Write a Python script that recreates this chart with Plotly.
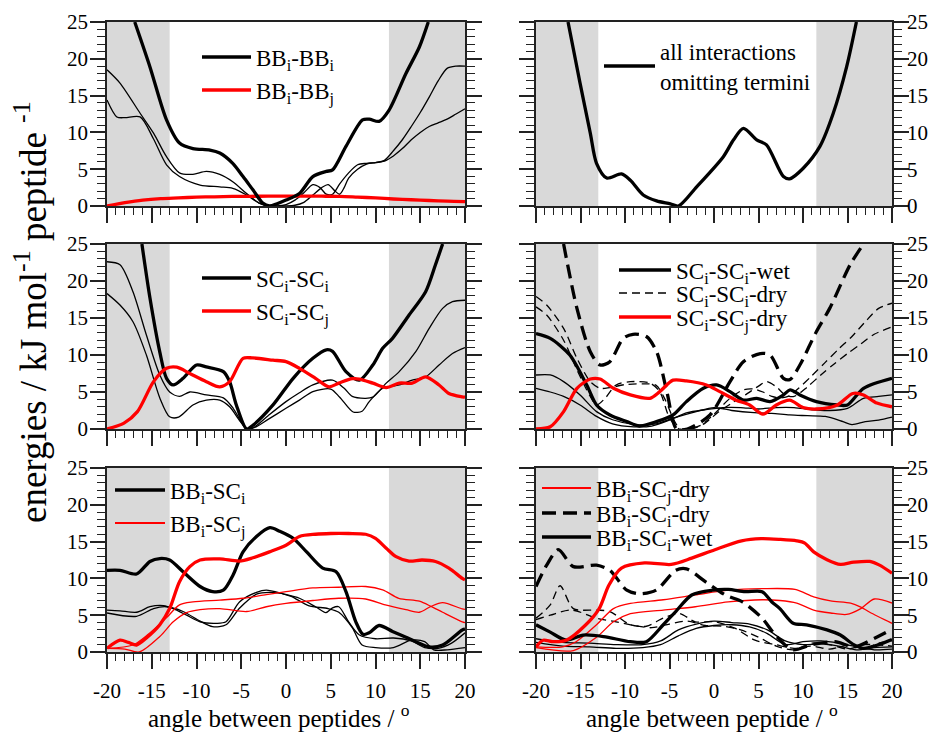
import plotly.graph_objects as go

W, H = 941, 734
FONT = "Liberation Serif, Times New Roman, Times, serif"
BLACK = "#000000"
RED = "#ff0000"
SHADE = "#d9d9d9"
THICK, THIN = 3.3, 1.3

# ---------------- data ----------------
shade_bands = [(-20, -13.0), (11.5, 20)]
x_ticks = [-20, -15, -10, -5, 0, 5, 10, 15, 20]
x_tick_text = ["-20", "-15", "-10", "-5", "0", "5", "10", "15", "20"]
y_ticks = [0, 5, 10, 15, 20, 25]
y_tick_text = ["0", "5", "10", "15", "20", "25"]

# panel 1 : top left
p1_bbii_x = [-16.9, -15.2, -13.35, -11.9, -10.4, -8.5, -7.4, -5.95, -4.8, -3.7, -2.6, -1.85, -1.0, 0.0, 1.5, 3.0, 4.5, 5.2, 6.7, 8.55, 9.3, 10.4, 11.5, 13.4, 14.9, 15.9]
p1_bbii_y = [25, 18.9, 11.7, 8.55, 7.8, 7.6, 7.2, 5.8, 4.0, 2.2, 0.4, 0.0, 0.3, 0.8, 1.7, 4.0, 4.7, 4.9, 8.1, 11.7, 11.8, 11.5, 13.0, 18.0, 21.6, 25]
p1_thinA_x = [-20, -18.55, -16.3, -14.8, -13.35, -11.9, -10.4, -8.9, -7.4, -5.95, -4.4, -3.0, -2.0, -1.0, 0, 1, 2, 3, 3.8, 4.5, 5.2, 6, 7, 8, 9, 10, 11, 12, 13, 14, 15, 16, 17, 18, 19, 20]
p1_thinA_y = [18.5, 16.7, 12.6, 9.9, 6.7, 4.5, 4.3, 4.7, 4.3, 3.3, 1.7, 0.4, 0.0, 0.0, 0.2, 0.8, 1.8, 2.9, 2.5, 1.6, 1.6, 3.0, 4.5, 5.6, 5.8, 5.9, 6.2, 7.5, 9.0, 10.8, 12.7, 14.8, 17.0, 18.7, 19.0, 19.0]
p1_thinB_x = [-20, -18.9, -18.0, -16.3, -14.8, -13.35, -11.9, -9.6, -7.4, -5.95, -4.4, -3.0, -1.5, 0, 1, 2, 3, 4, 4.7, 5.5, 6.0, 6.5, 7, 8, 9, 10, 11, 12, 13, 14, 15, 16, 17, 18, 19, 20]
p1_thinB_y = [14.4, 12.1, 12.0, 12.1, 9.1, 5.6, 4.0, 2.85, 2.6, 2.4, 1.5, 0.4, 0.0, 0.0, 0.1, 0.5, 1.5, 2.5, 2.9, 2.0, 1.6, 2.5, 3.8, 5.0, 5.7, 5.9, 6.1, 6.8, 7.8, 9.0, 10.0, 10.8, 11.3, 11.8, 12.5, 13.2]
p1_bbij_x = [-20, -18, -16, -14, -12, -10, -8, -6, -4, -2, 0, 2, 4, 6, 8, 10, 12, 14, 16, 18, 20]
p1_bbij_y = [0.0, 0.45, 0.8, 1.0, 1.1, 1.2, 1.25, 1.3, 1.32, 1.33, 1.35, 1.35, 1.33, 1.3, 1.2, 1.1, 0.95, 0.85, 0.75, 0.65, 0.6]

# panel 2 : top right
p2_all_x = [-16.4, -15.05, -13.9, -13.2, -12.05, -10.4, -9.4, -7.95, -6.45, -4.9, -4.0, -1.95, 1.05, 2.2, 3.3, 4.8, 5.9, 7.8, 8.5, 10.0, 11.9, 13.4, 14.9, 16.0]
p2_all_y = [25, 16.7, 9.9, 5.8, 3.8, 4.35, 3.5, 1.5, 0.7, 0.3, 0.0, 2.6, 6.7, 9.0, 10.55, 9.0, 8.3, 4.0, 3.7, 5.1, 8.1, 12.6, 18.9, 25]

# panel 3 : middle left
p3_scii_x = [-16.1, -15.2, -14.1, -13.35, -12.6, -11.5, -10.0, -8.9, -7.0, -6.3, -5.55, -4.4, -3.7, -1.45, 0.8, 3.0, 4.5, 5.2, 6.7, 8.2, 9.7, 10.8, 11.9, 13.75, 15.6, 16.7, 17.5]
p3_scii_y = [25, 17.7, 10.4, 6.85, 5.95, 6.85, 8.65, 8.4, 7.75, 6.4, 3.25, 0.0, 0.5, 3.25, 6.85, 9.55, 10.7, 10.5, 7.75, 6.6, 8.65, 10.9, 12.25, 15.4, 18.55, 22.2, 25]
p3_thinC_x = [-20, -18.55, -17.1, -15.6, -14.1, -13.0, -11.9, -10.75, -8.9, -7.0, -5.9, -4.4, -3.5, -2, 0, 1.5, 3.0, 5.2, 6.5, 7.4, 8.9, 9.7, 11.2, 12.65, 14.5, 16.0, 17.5, 18.6, 20]
p3_thinC_y = [22.6, 22.2, 18.55, 12.7, 7.3, 5.0, 4.4, 5.0, 4.6, 4.2, 2.8, 0.0, 0.3, 1.8, 3.7, 4.9, 5.95, 6.6, 5.5, 4.4, 4.15, 4.3, 6.2, 7.75, 10.45, 13.6, 16.3, 17.2, 17.4]
p3_thinD_x = [-20, -18.55, -17.1, -15.6, -14.1, -13.0, -12.0, -10.4, -8.9, -7.4, -6.3, -5.1, -4.3, -3.5, -2, 0, 1.5, 3.0, 5.0, 6.0, 7.5, 8.5, 9.3, 10.8, 12.65, 14.1, 15.6, 17.1, 18.6, 20]
p3_thinD_y = [18.3, 16.75, 14.5, 10.0, 4.2, 1.65, 1.6, 3.25, 3.9, 3.9, 3.0, 1.0, 0.0, 0.2, 1.3, 2.8, 3.9, 5.05, 5.4, 4.3, 2.3, 2.4, 3.7, 5.5, 5.95, 6.6, 7.05, 8.65, 10.2, 11.0]
p3_scij_x = [-20, -18.1, -16.6, -14.8, -13.35, -12.2, -10.75, -8.9, -7.4, -6.3, -4.8, -3.7, -1.45, 0, 1.5, 3.3, 4.8, 5.9, 7.4, 8.2, 9.7, 11.2, 12.65, 14.1, 15.6, 17.1, 18.2, 19.7, 20]
p3_scij_y = [0, 0.8, 2.35, 6.4, 8.2, 8.35, 7.5, 6.4, 5.7, 6.4, 9.55, 9.6, 9.3, 9.1, 8.2, 6.85, 5.7, 6.2, 6.8, 6.75, 6.2, 5.6, 6.2, 6.2, 7.05, 5.95, 4.8, 4.35, 4.3]

# panel 4 : middle right
p4_dry_x = [-16.9, -15.4, -13.9, -12.8, -11.7, -10.2, -9.1, -7.6, -6.45, -5.3, -4.2, -3.0, -0.45, 1.8, 3.3, 5.2, 6.3, 7.8, 8.55, 9.65, 11.5, 13.0, 15.3, 16.8]
p4_dry_y = [25, 16.3, 10.45, 8.65, 9.1, 12.25, 12.8, 12.5, 10.45, 5.05, 0.0, 0.0, 1.9, 6.4, 9.1, 10.2, 10.0, 6.85, 6.7, 8.65, 13.15, 16.3, 22.2, 25]
p4_wet_x = [-20, -18.4, -16.2, -14.3, -13.2, -11.7, -9.8, -8.4, -6.45, -4.6, -3.1, -1.2, 0.3, 1.8, 3.3, 4.8, 6.3, 7.8, 8.55, 9.65, 11.5, 13.8, 15.0, 16.8, 20]
p4_wet_y = [12.9, 12.25, 10.0, 5.95, 3.25, 1.9, 1.0, 0.4, 1.0, 1.9, 3.7, 5.5, 5.95, 5.05, 3.9, 4.15, 3.7, 4.6, 5.3, 4.6, 3.7, 3.25, 3.25, 5.5, 6.85]
p4_dsh1_x = [-20, -18.8, -16.9, -15.4, -13.9, -12.8, -11.7, -10, -8, -6.5, -5.5, -4.5, -3.8, -3.0, -1.5, 0, 1.8, 3.3, 4.5, 5.5, 6.5, 7.5, 8.5, 9.5, 11, 12.5, 14, 15.5, 17, 18.5, 20]
p4_dsh1_y = [17.9, 16.75, 13.6, 9.55, 6.4, 5.5, 5.6, 6.0, 6.1, 5.9, 4.0, 1.2, 0.0, 0.0, 0.5, 2.0, 4.15, 5.3, 5.4, 5.0, 4.4, 4.2, 4.5, 5.5, 7.2, 9.0, 10.8, 12.5, 14.5, 16.3, 17.0]
p4_dsh2_x = [-20, -18.8, -16.9, -15.4, -14, -13.2, -12.2, -11.0, -9.4, -7.2, -6.1, -5.0, -3.9, -2.5, -1, 0.5, 2, 3.5, 5.0, 5.9, 7.0, 8.0, 9.0, 10.5, 12, 13.5, 15, 16.5, 18, 20]
p4_dsh2_y = [16.5, 15.4, 12.0, 8.0, 4.6, 3.25, 4.2, 5.95, 6.4, 6.2, 5.05, 1.5, 0.0, 0.0, 0.8, 2.3, 3.5, 4.6, 5.8, 6.4, 5.7, 4.6, 4.4, 5.7, 7.3, 8.8, 10.2, 11.5, 12.8, 13.8]
p4_thn1_x = [-20, -18.4, -16.9, -15.05, -13.2, -11.4, -8.8, -6.5, -4.5, -2, 0, 2, 4.5, 6.5, 8.5, 10.5, 12.5, 14.5, 15.5, 17, 18.5, 20]
p4_thn1_y = [7.3, 7.3, 6.4, 4.6, 2.35, 1.25, 0.6, 0.7, 1.5, 2.35, 2.9, 2.5, 2.2, 2.1, 1.9, 1.8, 1.7, 1.0, 0.6, 1.0, 1.2, 1.6]
p4_thn2_x = [-20, -18.4, -16.9, -15.05, -13.2, -11.4, -9, -7, -5, -3, -1, 1, 3, 5, 7, 9, 11, 13, 15, 16.8, 18.5, 20]
p4_thn2_y = [5.5, 5.0, 4.4, 3.25, 1.7, 0.7, 0.3, 0.4, 1.2, 2.2, 2.6, 2.9, 2.9, 2.7, 2.9, 2.9, 2.6, 2.5, 2.8, 4.15, 4.4, 4.6]
p4_scij_x = [-20, -18.4, -16.9, -15.4, -13.9, -12.8, -11.3, -9.4, -7.2, -6.1, -4.6, -3.1, -0.85, 0.65, 2.5, 4.0, 5.5, 7.0, 8.5, 10.0, 11.5, 13.8, 15.6, 16.8, 18.3, 20]
p4_scij_y = [0, 0.3, 2.35, 5.5, 6.75, 6.75, 5.5, 4.6, 4.15, 5.05, 6.6, 6.5, 5.95, 5.05, 3.9, 3.25, 2.0, 3.25, 3.9, 2.9, 2.7, 3.2, 4.8, 4.6, 3.5, 3.0]

# panel 5 : bottom left
p5_bbsci_x = [-20, -18.55, -16.7, -15.2, -14.1, -13.0, -11.5, -9.6, -8.2, -7.0, -5.9, -4.8, -3.3, -1.8, -0.7, 0.8, 2.3, 4.1, 5.6, 6.7, 7.8, 8.6, 9.3, 10.4, 11.9, 13.4, 14.5, 16.0, 17.5, 19.7, 20]
p5_bbsci_y = [11.1, 11.1, 10.6, 12.3, 12.7, 12.5, 10.9, 8.9, 8.2, 8.4, 10.5, 13.6, 15.7, 16.9, 16.4, 15.45, 13.6, 11.4, 10.9, 8.2, 4.1, 2.4, 2.6, 3.6, 2.8, 2.0, 1.4, 0.7, 0.95, 3.0, 3.1]
p5_bbscj_x = [-20, -18.55, -17.6, -16.7, -15.6, -14.1, -13.0, -11.9, -10.75, -9.6, -7.4, -5.2, -3.7, -1.85, 0, 1.5, 3.3, 5, 7, 8.9, 10.0, 11.2, 12.3, 13.75, 15.2, 16.7, 18.2, 19.7, 20]
p5_bbscj_y = [0.5, 1.6, 1.3, 0.95, 1.9, 3.7, 5.9, 9.55, 11.6, 12.5, 12.65, 12.35, 12.8, 13.6, 14.5, 15.7, 16.0, 16.1, 16.1, 16.0, 15.45, 14.1, 12.95, 12.35, 12.5, 12.3, 11.4, 10.0, 9.8]
p5_thk1_x = [-20, -18.55, -16.7, -15.2, -13.7, -12.6, -11.1, -9.6, -7.8, -6.7, -5.2, -3.3, -2.2, -0.3, 1.5, 3.3, 4.45, 5.2, 5.9, 7.0, 8.2, 10, 12, 14, 15.5, 17, 18.5, 20]
p5_thk1_y = [5.7, 5.6, 5.4, 6.15, 6.3, 5.9, 5.0, 4.1, 3.9, 4.1, 6.8, 8.1, 8.4, 7.9, 7.3, 6.15, 5.35, 6.0, 6.15, 4.1, 2.3, 1.8, 1.9, 1.5, 0.6, 0.5, 1.2, 2.6]
p5_thk2_x = [-20, -16.7, -14.8, -13.4, -11.5, -9.6, -8.2, -6.7, -5.2, -3.3, -1.5, 0.5, 2.5, 4.7, 5.9, 7.4, 8.5, 10, 12, 14, 15.5, 16.5, 18, 20]
p5_thk2_y = [5.3, 4.85, 5.9, 6.15, 5.5, 4.2, 3.45, 3.7, 5.95, 7.85, 8.1, 7.6, 6.3, 5.9, 5.4, 3.3, 0.95, 0.6, 0.6, 1.6, 1.4, 0.3, 0.3, 0.6]
p5_red1_x = [-20, -17.1, -15.5, -13.4, -11.9, -10.4, -7.4, -4.8, -2.2, 0, 3.0, 5.9, 8.9, 10.8, 12.6, 14.9, 16.2, 17.5, 19.7, 20]
p5_red1_y = [0.5, 0.95, 2.3, 4.6, 6.4, 6.8, 7.05, 7.3, 7.8, 8.2, 8.7, 8.8, 8.9, 8.45, 7.3, 6.9, 6.2, 5.4, 4.1, 4.0]
p5_red2_x = [-20, -18, -16.4, -14.1, -12.6, -11.1, -9.6, -7.4, -4.4, -2.2, 0, 3.0, 5.9, 8.9, 11.1, 13.4, 14.9, 16.2, 17.5, 19.7, 20]
p5_red2_y = [0.5, 0.4, 0.0, 2.1, 4.1, 5.35, 5.75, 5.9, 5.5, 6.15, 6.6, 7.0, 7.3, 7.2, 6.4, 5.75, 5.4, 6.2, 6.7, 5.85, 5.8]

# panel 6 : bottom right
p6_scjdry_x = [-20, -19.2, -18.1, -16.6, -14.4, -12.9, -11.8, -10.4, -7.8, -4.8, -2.5, 0.1, 3.1, 5.3, 7.4, 9.3, 10.2, 11.2, 12.7, 14.2, 15.7, 17.5, 18.6, 20]
p6_scjdry_y = [0.7, 1.6, 1.4, 1.6, 3.7, 5.9, 9.1, 11.4, 12.1, 11.9, 12.75, 13.9, 15.1, 15.4, 15.3, 15.1, 14.8, 13.6, 12.55, 11.9, 12.2, 12.3, 11.8, 10.7]
p6_scidry_x = [-20, -18.8, -17.5, -15.8, -13.2, -11.7, -9.8, -8.4, -6.5, -4.3, -3.1, -0.9, 1.35, 3.2, 5.4, 6.9, 8.8, 11.0, 13.6, 15.8, 18.1, 20]
p6_scidry_y = [8.9, 11.8, 13.9, 11.6, 11.8, 11.1, 8.4, 7.9, 8.4, 11.1, 11.3, 9.5, 7.7, 6.8, 4.6, 2.3, 0.3, 1.0, 1.4, 0.7, 1.9, 3.1]
p6_sciwet_x = [-20, -18.4, -16.6, -14.7, -12.4, -9.4, -7.6, -5.7, -4.3, -2.5, -0.2, 1.6, 3.5, 5.4, 6.5, 7.4, 8.9, 10.4, 12.7, 14.2, 15.7, 16.8, 18.5, 20]
p6_sciwet_y = [3.7, 2.7, 1.6, 2.3, 2.1, 1.4, 1.4, 3.7, 5.5, 7.75, 8.4, 8.5, 8.2, 8.2, 6.8, 5.9, 3.9, 3.7, 3.0, 2.3, 1.0, 0.5, 1.0, 1.7]
p6_dsh1_x = [-20, -18.4, -17.3, -15.8, -13.2, -11.7, -9.4, -7.6, -5.7, -3.9, -2.1, 0.1, 2.4, 4.6, 6.9, 9, 11, 13, 15, 17, 18.5, 20]
p6_dsh1_y = [4.6, 6.4, 9.0, 5.9, 5.7, 5.5, 3.7, 3.5, 4.6, 5.25, 4.1, 4.1, 3.2, 1.6, 1.0, 0.5, 0.8, 0.4, 0.9, 0.5, 1.2, 1.5]
p6_dsh2_x = [-20, -18.4, -16, -13.2, -11, -9, -7, -5, -3, -1, 1, 3, 5, 7, 9, 11, 13, 15, 17, 20]
p6_dsh2_y = [4.4, 5.0, 5.7, 4.6, 4.1, 3.6, 3.3, 3.8, 4.2, 3.6, 3.5, 3.0, 2.0, 0.8, 0.3, 1.2, 1.0, 0.4, 1.0, 0.8]
p6_thn1_x = [-20, -17, -14, -11, -8, -6, -4, -2, 0, 2, 4, 6, 8, 10, 12, 14, 16, 18, 20]
p6_thn1_y = [1.8, 1.3, 1.2, 1.0, 1.0, 1.5, 3.0, 3.8, 4.2, 4.0, 3.8, 3.0, 1.5, 1.0, 1.1, 0.8, 0.3, 0.6, 0.7]
p6_thn2_x = [-20, -17, -14, -11, -8, -6, -4, -2, 0, 2, 4, 6, 8, 10, 12, 14, 16, 18, 20]
p6_thn2_y = [1.3, 0.8, 0.7, 0.5, 0.6, 1.0, 2.2, 3.2, 3.6, 3.7, 3.4, 2.5, 1.0, 1.4, 1.5, 1.2, 0.7, 0.3, 0.4]
p6_red1_x = [-20, -17, -15.5, -13.2, -11.3, -9.4, -5.7, -2.1, 1.6, 5.4, 9.1, 11.2, 13.1, 15.35, 16.5, 17.5, 20]
p6_red1_y = [0.7, 0.7, 1.4, 3.7, 5.9, 6.6, 7.1, 7.75, 8.4, 8.6, 8.5, 7.5, 6.95, 6.65, 6.1, 5.4, 3.9]
p6_red2_x = [-20, -15.8, -13.2, -11.3, -9.4, -5.7, -2.1, 1.6, 5.4, 7.4, 9.3, 11.2, 13.1, 14.9, 16.5, 18.0, 20]
p6_red2_y = [0.6, 0.2, 2.0, 4.1, 5.2, 5.7, 6.15, 6.8, 7.1, 7.0, 6.65, 5.7, 5.3, 5.1, 5.9, 7.2, 6.65]

# legend labels
lab_bbii = "BB<sub>i</sub>-BB<sub>i</sub>"
lab_bbij = "BB<sub>i</sub>-BB<sub>j</sub>"
lab_all = "all interactions<br>omitting termini"
lab_scii = "SC<sub>i</sub>-SC<sub>i</sub>"
lab_scij = "SC<sub>i</sub>-SC<sub>j</sub>"
lab_sciiwet = "SC<sub>i</sub>-SC<sub>i</sub>-wet"
lab_sciidry = "SC<sub>i</sub>-SC<sub>i</sub>-dry"
lab_scijdry = "SC<sub>i</sub>-SC<sub>j</sub>-dry"
lab_bbsci = "BB<sub>i</sub>-SC<sub>i</sub>"
lab_bbscj = "BB<sub>i</sub>-SC<sub>j</sub>"
lab_bbscjdry = "BB<sub>i</sub>-SC<sub>j</sub>-dry"
lab_bbscidry = "BB<sub>i</sub>-SC<sub>i</sub>-dry"
lab_bbsciwet = "BB<sub>i</sub>-SC<sub>i</sub>-wet"

# ---------------- layout geometry (pixels) ----------------
col_px = {1: (107, 465), 2: (536, 892)}
row_px = {1: (22, 206), 2: (244, 429), 3: (468, 652)}
panel_rc = {1: (1, 1), 2: (1, 2), 3: (2, 1), 4: (2, 2), 5: (3, 1), 6: (3, 2)}

fig = go.Figure()
legend_layouts = {}
legend_count = [0]

DASH_THICK = "14px,7px"
DASH_THIN = "8px,5px"
LEG_FS = 23


def new_legend(line_start, line_end, text_start, row_center, lines=1, fsize=LEG_FS):
    legend_count[0] += 1
    key = "legend" if legend_count[0] == 1 else "legend%d" % legend_count[0]
    center = (line_start + line_end) / 2.0
    iw = max(30, 2 * (text_start - 2 - center - 5))
    x_left = center - 5 - iw / 2.0
    lh = fsize * 1.3 * lines
    h = max(lh, 16) + 3
    top = row_center - 5 - h / 2
    legend_layouts[key] = dict(
        x=x_left / W, y=1 - top / H, xanchor="left", yanchor="top",
        xref="paper", yref="paper",
        bgcolor="rgba(0,0,0,0)", borderwidth=0,
        font=dict(family=FONT, size=fsize, color="#000"),
        itemwidth=iw, itemclick=False, itemdoubleclick=False, tracegroupgap=0,
    )
    return key


def add(panel, xs, ys, color, width, dash="solid"):
    k = "" if panel == 1 else str(panel)
    fig.add_trace(go.Scatter(
        x=xs, y=ys, mode="lines", xaxis="x" + k, yaxis="y" + k,
        line=dict(color=color, width=width, dash=dash, shape="spline", smoothing=0.8),
        showlegend=False, hoverinfo="skip",
    ))


# panel 1
add(1, p1_thinA_x, p1_thinA_y, BLACK, THIN)
add(1, p1_thinB_x, p1_thinB_y, BLACK, THIN)
add(1, p1_bbij_x, p1_bbij_y, RED, THICK)
add(1, p1_bbii_x, p1_bbii_y, BLACK, THICK)
# panel 2
add(2, p2_all_x, p2_all_y, BLACK, THICK)
# panel 3
add(3, p3_thinC_x, p3_thinC_y, BLACK, THIN)
add(3, p3_thinD_x, p3_thinD_y, BLACK, THIN)
add(3, p3_scii_x, p3_scii_y, BLACK, THICK)
add(3, p3_scij_x, p3_scij_y, RED, THICK)
# panel 4
add(4, p4_thn1_x, p4_thn1_y, BLACK, THIN)
add(4, p4_thn2_x, p4_thn2_y, BLACK, THIN)
add(4, p4_dsh1_x, p4_dsh1_y, BLACK, THIN, DASH_THIN)
add(4, p4_dsh2_x, p4_dsh2_y, BLACK, THIN, DASH_THIN)
add(4, p4_dry_x, p4_dry_y, BLACK, THICK, DASH_THICK)
add(4, p4_wet_x, p4_wet_y, BLACK, THICK)
add(4, p4_scij_x, p4_scij_y, RED, THICK)
# panel 5
add(5, p5_thk1_x, p5_thk1_y, BLACK, THIN)
add(5, p5_thk2_x, p5_thk2_y, BLACK, THIN)
add(5, p5_red1_x, p5_red1_y, RED, THIN)
add(5, p5_red2_x, p5_red2_y, RED, THIN)
add(5, p5_bbsci_x, p5_bbsci_y, BLACK, THICK)
add(5, p5_bbscj_x, p5_bbscj_y, RED, THICK)
# panel 6
add(6, p6_thn1_x, p6_thn1_y, BLACK, THIN)
add(6, p6_thn2_x, p6_thn2_y, BLACK, THIN)
add(6, p6_dsh1_x, p6_dsh1_y, BLACK, THIN, DASH_THIN)
add(6, p6_dsh2_x, p6_dsh2_y, BLACK, THIN, DASH_THIN)
add(6, p6_red1_x, p6_red1_y, RED, THIN)
add(6, p6_red2_x, p6_red2_y, RED, THIN)
add(6, p6_sciwet_x, p6_sciwet_y, BLACK, THICK)
add(6, p6_scidry_x, p6_scidry_y, BLACK, THICK, DASH_THICK)
add(6, p6_scjdry_x, p6_scjdry_y, RED, THICK)


# legend entries (one legend box per row so that the row spacing matches)
def legend_entry(panel, label, color, width, dash, line_start, line_end, text_start, row_center, lines=1):
    key = new_legend(line_start, line_end, text_start, row_center, lines)
    k = "" if panel == 1 else str(panel)
    fig.add_trace(go.Scatter(
        x=[None], y=[None], mode="lines", xaxis="x" + k, yaxis="y" + k,
        line=dict(color=color, width=width, dash=dash), name=label,
        showlegend=True, legend=key, hoverinfo="skip"))


legend_entry(1, lab_bbii, BLACK, THICK, "solid", 210, 243, 258, 57)
legend_entry(1, lab_bbij, RED, THICK, "solid", 210, 243, 258, 90)
legend_entry(2, lab_all, BLACK, THICK, "solid", 612, 647, 662, 66, lines=2)
legend_entry(3, lab_scii, BLACK, THICK, "solid", 210, 243, 258, 278)
legend_entry(3, lab_scij, RED, THICK, "solid", 210, 243, 258, 311)
legend_entry(4, lab_sciiwet, BLACK, THICK, "solid", 628, 662, 678, 270)
legend_entry(4, lab_sciidry, BLACK, THIN, DASH_THIN, 628, 662, 678, 293)
legend_entry(4, lab_scijdry, RED, THICK, "solid", 628, 662, 678, 317)
legend_entry(5, lab_bbsci, BLACK, THICK, "solid", 123, 157, 172, 490)
legend_entry(5, lab_bbscj, RED, 2.0, "solid", 123, 157, 172, 523)
legend_entry(6, lab_bbscjdry, RED, 2.0, "solid", 550, 583, 598, 488)
legend_entry(6, lab_bbscidry, BLACK, THICK, DASH_THICK, 550, 583, 598, 513)
legend_entry(6, lab_bbsciwet, BLACK, THICK, "solid", 550, 583, 598, 537)

# ---------------- axes ----------------
layout = dict(
    width=W, height=H,
    margin=dict(l=0, r=0, t=0, b=0, pad=0, autoexpand=False),
    paper_bgcolor="white", plot_bgcolor="white",
    font=dict(family=FONT, size=21, color="#000"),
    showlegend=True, shapes=[], annotations=[],
)
AX_COLOR = "#222222"
for p, (r, c) in panel_rc.items():
    k = "" if p == 1 else str(p)
    x0, x1 = col_px[c]
    y0, y1 = row_px[r]
    layout["xaxis" + k] = dict(
        domain=[x0 / W, x1 / W], anchor="y" + k, range=[-20, 20], automargin=False,
        tickmode="array", tickvals=x_ticks, ticktext=x_tick_text,
        showticklabels=(r == 3), ticks="outside", ticklen=15, tickwidth=1.5,
        tickcolor=AX_COLOR, showline=True, linecolor=AX_COLOR, linewidth=1.5,
        mirror=True, showgrid=False, zeroline=False,
        minor=dict(dtick=1, tick0=0, ticks="outside", ticklen=7, tickwidth=1.3,
                   tickcolor=AX_COLOR, showgrid=False),
        tickfont=dict(family=FONT, size=21, color="#000"), ticklabelstandoff=4,
    )
    layout["yaxis" + k] = dict(
        domain=[1 - y1 / H, 1 - y0 / H], anchor="x" + k, range=[0, 25], automargin=False,
        side="left" if c == 1 else "right",
        tickmode="array", tickvals=y_ticks, ticktext=y_tick_text,
        ticks="outside", ticklen=15, tickwidth=1.5, tickcolor=AX_COLOR,
        showline=True, linecolor=AX_COLOR, linewidth=1.5, mirror="ticks",
        showgrid=False, zeroline=False,
        minor=dict(dtick=1, tick0=0, ticks="outside", ticklen=8, tickwidth=1.3,
                   tickcolor=AX_COLOR, showgrid=False),
        tickfont=dict(family=FONT, size=21, color="#000"),
        ticklabelstandoff=(-2 if c == 1 else -6),
    )
    for (a, b) in shade_bands:
        layout["shapes"].append(dict(
            type="rect", xref="x" + k, yref="y" + k + " domain", x0=a, x1=b, y0=0, y1=1,
            fillcolor=SHADE, line=dict(width=0), layer="below"))

layout["annotations"] += [
    dict(text="energies / kJ mol<sup>-1</sup> peptide <sup>-1</sup>", textangle=-90,
         x=30 / W, y=1 - 312 / H, xref="paper", yref="paper", showarrow=False,
         font=dict(family=FONT, size=37, color="#000"), xanchor="center", yanchor="middle"),
    dict(text="angle between peptides / <sup>o</sup>", x=279 / W, y=1 - 733 / H,
         xref="paper", yref="paper", showarrow=False, borderpad=0,
         font=dict(family=FONT, size=25, color="#000"), xanchor="center", yanchor="bottom"),
    dict(text="angle between peptide / <sup>o</sup>", x=712 / W, y=1 - 733 / H,
         xref="paper", yref="paper", showarrow=False, borderpad=0,
         font=dict(family=FONT, size=25, color="#000"), xanchor="center", yanchor="bottom"),
]
layout.update(legend_layouts)
fig.update_layout(**layout)
fig.write_html("out.html")
